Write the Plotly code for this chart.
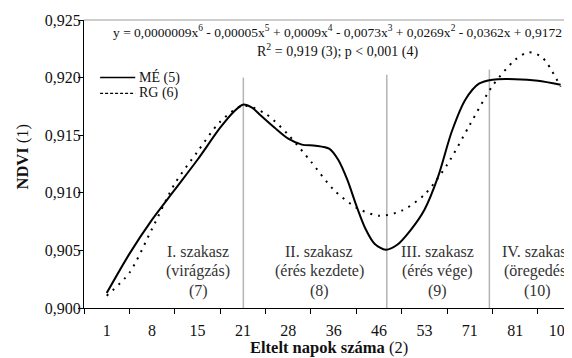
import plotly.graph_objects as go

# ---- data ----
day_labels = ["1", "8", "15", "21", "28", "36", "46", "53", "71", "81", "105"]
tick_pos = list(range(len(day_labels)))

me_x = [0.0, 0.5, 1.0, 1.5, 2.0, 2.5, 2.8, 3.0, 3.2, 3.4, 3.7, 4.0, 4.3, 4.6, 4.9,
        5.1, 5.3, 5.5, 5.7, 5.9, 6.15, 6.4, 6.7, 7.0, 7.3, 7.6, 7.9, 8.2, 8.5, 9.0, 9.5, 10.0]
me_y = [0.90130, 0.90470, 0.90767, 0.91027, 0.91287, 0.91565, 0.91704, 0.91765, 0.91739,
        0.91669, 0.91565, 0.91470, 0.91418, 0.91409, 0.91383, 0.91287, 0.91114, 0.90888,
        0.90688, 0.90558, 0.90506, 0.90549, 0.90679, 0.90853, 0.91140, 0.91530, 0.91808,
        0.91947, 0.91982, 0.91986, 0.91973, 0.91938]

rg_x = [0.0, 0.5, 1.0, 1.5, 2.0, 2.5, 3.0, 3.5, 4.0, 4.5, 5.0, 5.5, 6.0, 6.5, 7.0, 7.5,
        8.0, 8.5, 9.0, 9.3, 9.6, 10.0]
rg_y = [0.90107, 0.90306, 0.90688, 0.91079, 0.91357, 0.91617, 0.91756, 0.91686, 0.91504,
        0.91270, 0.91027, 0.90871, 0.90801, 0.90845, 0.90984, 0.91244, 0.91591, 0.91929,
        0.92155, 0.92220, 0.92173, 0.91921]

series_names = ["MÉ (5)", "RG (6)"]

phase_x = [3.01, 6.17, 8.43]
phase_top = [0.9200, 0.92025, 0.9207]

phase_label_x = [2.02, 4.68, 7.29, 9.5]
phase_lines = [
    ["I. szakasz", "(virágzás)", "(7)"],
    ["II. szakasz", "(érés kezdete)", "(8)"],
    ["III. szakasz", "(érés vége)", "(9)"],
    ["IV. szakasz", "(öregedés)", "(10)"],
]
phase_line_y = [0.90489, 0.90319, 0.90150]

equation = ("y = 0,0000009x<sup>6</sup> - 0,00005x<sup>5</sup> + 0,0009x<sup>4</sup> - "
            "0,0073x<sup>3</sup> + 0,0269x<sup>2</sup> - 0,0362x + 0,9172")
r2_text = "R<sup>2</sup> = 0,919 (3); p &lt; 0,001 (4)"

FONT = "Liberation Serif"
TXT = "#111111"

fig = go.Figure()
fig.add_trace(go.Scatter(x=me_x, y=me_y, mode="lines", name=series_names[0], showlegend=False,
                         line=dict(color="black", width=2, shape="spline", smoothing=0.8)))
fig.add_trace(go.Scatter(x=rg_x, y=rg_y, mode="lines", name=series_names[1], showlegend=False,
                         line=dict(color="black", width=2, dash="2px,6px", shape="spline", smoothing=0.8)))

for px, top in zip(phase_x, phase_top):
    fig.add_shape(type="line", xref="x", yref="y", x0=px, x1=px, y0=0.900, y1=top,
                  line=dict(color="#b4b4b4", width=1.5), layer="below")

# top border line
fig.add_shape(type="line", xref="paper", yref="paper", x0=0, x1=1, y0=1, y1=1,
              line=dict(color="#9a9a9a", width=1))

# legend (drawn in paper coordinates)
leg_y = [0.8, 0.745]
leg_dash = ["solid", "3px,2px"]
for name, ly, dsh in zip(series_names, leg_y, leg_dash):
    fig.add_shape(type="line", xref="paper", yref="paper", x0=0.033, x1=0.105, y0=ly, y1=ly,
                  line=dict(color="black", width=1.5 if dsh == "solid" else 1.2, dash=dsh))
    fig.add_annotation(x=0.108, y=ly, xref="paper", yref="paper", text=name, showarrow=False,
                       xanchor="left", yanchor="middle", font=dict(family=FONT, size=14, color=TXT))

for lx, lines in zip(phase_label_x, phase_lines):
    for ly, txt in zip(phase_line_y, lines):
        fig.add_annotation(x=lx, y=ly, xref="x", yref="y", text=txt, showarrow=False,
                           font=dict(family=FONT, size=16, color="#333333"),
                           xanchor="center", yanchor="middle")

fig.add_annotation(x=0.519, y=0.96, xref="paper", yref="paper", text=equation,
                   showarrow=False, font=dict(family=FONT, size=13.5, color=TXT),
                   xanchor="center", yanchor="middle")
fig.add_annotation(x=0.520, y=0.895, xref="paper", yref="paper", text=r2_text,
                   showarrow=False, font=dict(family=FONT, size=14, color=TXT),
                   xanchor="center", yanchor="middle")

fig.add_annotation(x=0.503, y=-0.137, xref="paper", yref="paper",
                   text="<b>Eltelt napok száma</b> (2)", showarrow=False,
                   font=dict(family=FONT, size=16.5, color=TXT),
                   xanchor="center", yanchor="middle")
fig.add_annotation(x=-0.127, y=0.526, xref="paper", yref="paper",
                   text="<b>NDVI</b> (1)", showarrow=False, textangle=-90,
                   font=dict(family=FONT, size=16.5, color=TXT),
                   xanchor="center", yanchor="middle")

# the page body adds an 8 px offset, so the figure is 8 px smaller on each side
fig.update_layout(
    width=564, height=350,
    margin=dict(l=76, r=0, t=12, b=50, autoexpand=False),
    paper_bgcolor="white", plot_bgcolor="white",
    font=dict(family=FONT, size=14, color=TXT),
    showlegend=False,
    xaxis=dict(range=[-0.5, 10.25], tickmode="array", tickvals=tick_pos, ticktext=day_labels,
               automargin=False, ticklabeloverflow="allow",
               showgrid=False, zeroline=False, showline=True, linecolor="black", linewidth=1,
               ticks="outside", ticklen=3, tickcolor="rgba(0,0,0,0)", ticklabelstandoff=5,
               minor=dict(tick0=-0.5, dtick=1, ticks="outside", ticklen=5, tickcolor="black",
                          showgrid=False),
               tickfont=dict(family=FONT, size=16, color=TXT)),
    yaxis=dict(range=[0.900, 0.925], tickmode="array",
               tickvals=[0.900, 0.905, 0.910, 0.915, 0.920, 0.925],
               ticktext=["0,900", "0,905", "0,910", "0,915", "0,920", "0,925"],
               automargin=False,
               showgrid=False, zeroline=False, showline=True, linecolor="black", linewidth=1,
               ticks="outside", ticklen=5, tickcolor="black", ticklabelstandoff=-6,
               tickfont=dict(family=FONT, size=16, color=TXT)),
)

fig.write_html("out.html")
